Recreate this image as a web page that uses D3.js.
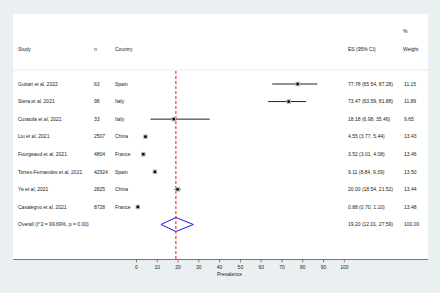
<!DOCTYPE html>
<html>
<head>
<meta charset="utf-8">
<script src="https://d3js.org/d3.v7.min.js"></script>
<style>
  body { margin: 0; background: #eaf0f2; }
  svg { display: block; font-family: "Liberation Sans", Arial, sans-serif; }
  .txt { font-size: 5px; fill: #222; }
</style>
</head>
<body>
<div id="chart"></div>
<script>
// study data
const studies = ["Guitart et al, 2022", "Stera et al, 2021", "Curatola et al, 2021", "Liu et al, 2021",
  "Fourgeaud et al, 2021", "Torres-Fernandes et al, 2021", "Ye et al, 2021", "Casalegno et al, 2021"];
const nValues = ["63", "98", "33", "2507", "4804", "42924", "2825", "8728"];
const countries = ["Spain", "Italy", "Italy", "China", "France", "Spain", "China", "France"];
const es = [77.78, 73.47, 18.18, 4.55, 3.52, 9.11, 20.00, 0.88];
const lower = [65.54, 63.59, 6.98, 3.77, 3.01, 8.84, 18.54, 0.70];
const upper = [87.28, 81.88, 35.46, 5.44, 4.08, 9.39, 21.52, 1.10];
const weights = ["11.15", "11.89", "9.65", "13.43", "13.46", "13.50", "13.44", "13.48"];
const overall = { label: "Overall  (I^2 = 99.69%, p = 0.00)", es: 19.20, lo: 12.01, hi: 27.59, w: "100.00" };
const xTicks = [0, 10, 20, 30, 40, 50, 60, 70, 80, 90, 100];

const W = 440, H = 293;
const svg = d3.select("#chart").append("svg").attr("width", W).attr("height", H);

// white panel
svg.append("rect").attr("x", 13).attr("y", 14).attr("width", 415).attr("height", 245.5).attr("fill", "#fff");

const x = d3.scaleLinear().domain([0, 100]).range([136, 343.8]);
const rows = studies.concat(["overall"]);
const y = d3.scalePoint().domain(d3.range(rows.length)).range([84, 224.5]);

// header
svg.append("text").attr("class", "txt").attr("x", 403).attr("y", 33).text("%");
const header = [["Study", 18], ["n", 94], ["Country", 115], ["ES (95% CI)", 348], ["Weight", 403]];
svg.selectAll(".hdr").data(header).join("text").attr("class", "txt")
  .attr("x", d => d[1]).attr("y", 51).text(d => d[0]);
svg.append("line").attr("x1", 13).attr("x2", 428).attr("y1", 70).attr("y2", 70)
  .attr("stroke", "#e4e4e4").attr("stroke-width", 0.8);

// overall effect line
svg.append("line").attr("x1", x(overall.es)).attr("x2", x(overall.es)).attr("y1", 71).attr("y2", 259)
  .attr("stroke", "#ee1111").attr("stroke-width", 1).attr("stroke-dasharray", "3,2");

const idx = d3.range(studies.length);
const g = svg.append("g");
// text columns
idx.forEach(i => {
  const yy = y(i) + 1.8;
  g.append("text").attr("class", "txt").attr("x", 18).attr("y", yy).text(studies[i]);
  g.append("text").attr("class", "txt").attr("x", 94).attr("y", yy).text(nValues[i]);
  g.append("text").attr("class", "txt").attr("x", 115).attr("y", yy).text(countries[i]);
  g.append("text").attr("class", "txt").attr("x", 348).attr("y", yy)
    .text(`${es[i].toFixed(2)} (${lower[i].toFixed(2)}, ${upper[i].toFixed(2)})`);
  g.append("text").attr("class", "txt").attr("x", 404).attr("y", yy).text(weights[i]);
});

// CI lines and markers
g.selectAll(".ci").data(idx).join("line")
  .attr("x1", i => x(lower[i])).attr("x2", i => x(upper[i]))
  .attr("y1", i => y(i)).attr("y2", i => y(i))
  .attr("stroke", "#222").attr("stroke-width", 1);
g.selectAll(".box").data(idx).join("rect")
  .attr("x", i => x(es[i]) - 2.3).attr("y", i => y(i) - 2.3)
  .attr("width", 4.6).attr("height", 4.6).attr("fill", "#bdbdbd");
g.selectAll(".dot").data(idx).join("rect")
  .attr("x", i => x(es[i]) - 1.2).attr("y", i => y(i) - 1.2)
  .attr("width", 2.4).attr("height", 2.4).attr("fill", "#000");

// overall row
const oy = y(rows.length - 1);
g.append("text").attr("class", "txt").attr("x", 18).attr("y", oy + 1.8).text(overall.label);
g.append("text").attr("class", "txt").attr("x", 348).attr("y", oy + 1.8)
  .text(`${overall.es.toFixed(2)} (${overall.lo.toFixed(2)}, ${overall.hi.toFixed(2)})`);
g.append("text").attr("class", "txt").attr("x", 404).attr("y", oy + 1.8).text(overall.w);
g.append("path")
  .attr("d", `M${x(overall.lo)},${oy} L${x(overall.es)},${oy - 7} L${x(overall.hi)},${oy} L${x(overall.es)},${oy + 7} Z`)
  .attr("fill", "none").attr("stroke", "#1a1aee").attr("stroke-width", 1);

// axis
svg.append("line").attr("x1", 13).attr("x2", 428).attr("y1", 259.5).attr("y2", 259.5)
  .attr("stroke", "#777").attr("stroke-width", 1);
const axis = svg.append("g").attr("transform", "translate(0,259.5)")
  .call(d3.axisBottom(x).tickValues(xTicks).tickSize(3).tickPadding(3));
axis.select(".domain").remove();
axis.selectAll(".tick line").attr("stroke", "#555").attr("stroke-width", 0.7);
axis.selectAll(".tick text").attr("font-size", 5).attr("fill", "#222")
  .attr("font-family", "Liberation Sans, Arial, sans-serif");
svg.append("text").attr("class", "txt").attr("x", x(45)).attr("y", 275.5)
  .attr("text-anchor", "middle").attr("font-size", 5.5).text("Prevalence");
</script>
</body>
</html>
